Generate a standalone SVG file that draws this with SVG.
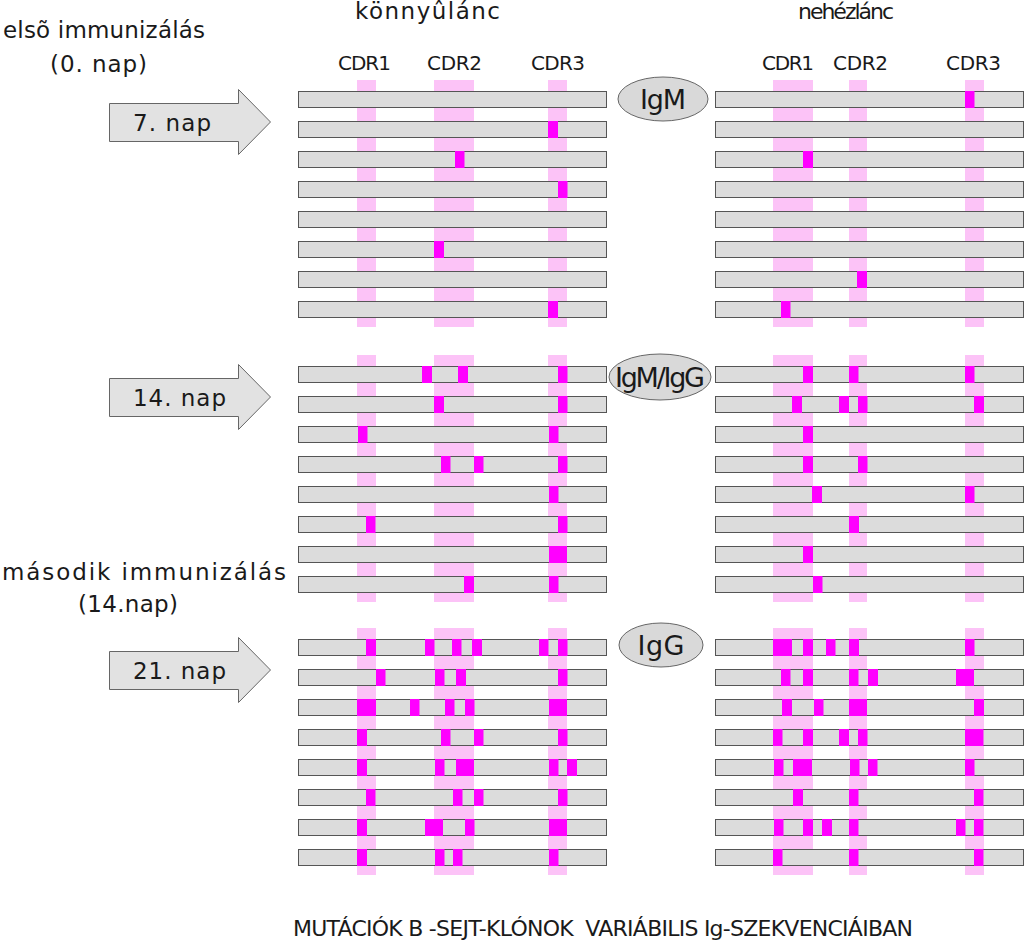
<svg xmlns="http://www.w3.org/2000/svg" width="1024" height="945" viewBox="0 0 1024 945">
<style>
text{font-family:"DejaVu Sans","Liberation Sans",sans-serif;fill:#1a1a1a}
.t{font-size:23px}
.cdr{font-size:20px}
.ig{font-size:27px}
.al{font-size:23px}
.bar{fill:#dcdcdc;stroke:#555;stroke-width:1}
.str{fill:#fcc3f7}
.m{fill:#ff00ff}
.arr{fill:#e2e2e2;stroke:#666;stroke-width:1}
.ell{fill:#d9d9d9;stroke:#666;stroke-width:1}
</style>
<defs>
<g id="barsL">
<rect class="bar" x="298.5" y="0.5" width="308" height="16"/>
<rect class="bar" x="298.5" y="30.5" width="308" height="16"/>
<rect class="bar" x="298.5" y="60.5" width="308" height="16"/>
<rect class="bar" x="298.5" y="90.5" width="308" height="16"/>
<rect class="bar" x="298.5" y="120.5" width="308" height="16"/>
<rect class="bar" x="298.5" y="150.5" width="308" height="16"/>
<rect class="bar" x="298.5" y="180.5" width="308" height="16"/>
<rect class="bar" x="298.5" y="210.5" width="308" height="16"/>
</g>
<g id="barsR">
<rect class="bar" x="715.5" y="0.5" width="308" height="16"/>
<rect class="bar" x="715.5" y="30.5" width="308" height="16"/>
<rect class="bar" x="715.5" y="60.5" width="308" height="16"/>
<rect class="bar" x="715.5" y="90.5" width="308" height="16"/>
<rect class="bar" x="715.5" y="120.5" width="308" height="16"/>
<rect class="bar" x="715.5" y="150.5" width="308" height="16"/>
<rect class="bar" x="715.5" y="180.5" width="308" height="16"/>
<rect class="bar" x="715.5" y="210.5" width="308" height="16"/>
</g>
<g id="stripes">
<rect class="str" x="357" y="0" width="19" height="247"/>
<rect class="str" x="434" y="0" width="40" height="247"/>
<rect class="str" x="548" y="0" width="19" height="247"/>
<rect class="str" x="773" y="0" width="40" height="247"/>
<rect class="str" x="849" y="0" width="18" height="247"/>
<rect class="str" x="965" y="0" width="19" height="247"/>
</g>
<polygon id="arrow" class="arr" points="109.5,103.5 238.5,103.5 238.5,89.5 270.5,122 238.5,154.5 238.5,141.5 109.5,141.5"/>
</defs>

<g id="titles">
<text class="t" x="355" y="19" textLength="145">könnyûlánc</text>
<text class="t" x="798" y="19" style="font-size:22px" textLength="96">nehézlánc</text>
<text class="t" x="3" y="38" textLength="202">elsõ immunizálás</text>
<text class="t" x="50" y="72" textLength="97">(0. nap)</text>
<text class="t" x="2" y="580" textLength="284">második immunizálás</text>
<text class="t" x="78" y="612" textLength="100">(14.nap)</text>
<text class="cdr" x="338" y="70" textLength="53">CDR1</text>
<text class="cdr" x="427" y="70" textLength="55">CDR2</text>
<text class="cdr" x="531" y="70" textLength="54">CDR3</text>
<text class="cdr" x="762" y="70" textLength="52">CDR1</text>
<text class="cdr" x="833" y="70" textLength="55">CDR2</text>
<text class="cdr" x="946" y="70" textLength="55">CDR3</text>
</g>

<g id="connectors">
<g id="arrow-7">
<use href="#arrow"/>
<text class="al" x="133" y="131" textLength="78">7. nap</text>
</g>
<g id="arrow-14">
<use href="#arrow" transform="translate(0,275)"/>
<text class="al" x="133" y="406" textLength="93">14. nap</text>
</g>
<g id="arrow-21">
<use href="#arrow" transform="translate(0,548)"/>
<text class="al" x="133" y="679" textLength="93">21. nap</text>
</g>
</g>

<g id="panel-top" transform="translate(0,91)">
<use href="#stripes" transform="translate(0,-11)"/>
<use href="#barsL"/>
<use href="#barsR"/>
<rect class="m" x="548" y="30" width="10" height="17"/>
<rect class="m" x="455" y="60" width="9.5" height="17"/>
<rect class="m" x="558" y="90" width="9.5" height="17"/>
<rect class="m" x="434" y="150" width="10" height="17"/>
<rect class="m" x="548" y="210" width="10" height="17"/>
<rect class="m" x="965" y="0" width="9.5" height="17"/>
<rect class="m" x="803" y="60" width="10" height="17"/>
<rect class="m" x="857" y="180" width="10" height="17"/>
<rect class="m" x="781" y="210" width="9.5" height="17"/>
</g>

<g id="panel-middle" transform="translate(0,366)">
<use href="#stripes" transform="translate(0,-11)"/>
<use href="#barsL"/>
<use href="#barsR"/>
<rect class="m" x="422" y="0" width="10" height="17"/>
<rect class="m" x="458" y="0" width="10" height="17"/>
<rect class="m" x="558" y="0" width="9.5" height="17"/>
<rect class="m" x="434" y="30" width="10" height="17"/>
<rect class="m" x="558" y="30" width="9.5" height="17"/>
<rect class="m" x="358" y="60" width="9.5" height="17"/>
<rect class="m" x="549" y="60" width="9.5" height="17"/>
<rect class="m" x="441" y="90" width="9.5" height="17"/>
<rect class="m" x="474" y="90" width="9.5" height="17"/>
<rect class="m" x="558" y="90" width="9.5" height="17"/>
<rect class="m" x="549" y="120" width="9.5" height="17"/>
<rect class="m" x="366" y="150" width="9.5" height="17"/>
<rect class="m" x="558" y="150" width="9.5" height="17"/>
<rect class="m" x="549" y="180" width="18" height="17"/>
<rect class="m" x="464" y="210" width="10" height="17"/>
<rect class="m" x="549" y="210" width="9.5" height="17"/>
<rect class="m" x="803" y="0" width="10" height="17"/>
<rect class="m" x="849" y="0" width="9.5" height="17"/>
<rect class="m" x="965" y="0" width="9.5" height="17"/>
<rect class="m" x="792" y="30" width="10" height="17"/>
<rect class="m" x="839" y="30" width="10" height="17"/>
<rect class="m" x="858" y="30" width="9.5" height="17"/>
<rect class="m" x="974" y="30" width="10" height="17"/>
<rect class="m" x="803" y="60" width="10" height="17"/>
<rect class="m" x="803" y="90" width="10" height="17"/>
<rect class="m" x="858" y="90" width="9.5" height="17"/>
<rect class="m" x="812" y="120" width="10" height="17"/>
<rect class="m" x="965" y="120" width="9.5" height="17"/>
<rect class="m" x="849" y="150" width="10" height="17"/>
<rect class="m" x="803" y="180" width="10" height="17"/>
<rect class="m" x="813" y="210" width="9.5" height="17"/>
</g>

<g id="panel-bottom" transform="translate(0,639)">
<use href="#stripes" transform="translate(0,-11)"/>
<use href="#barsL"/>
<use href="#barsR"/>
<rect class="m" x="366" y="0" width="10" height="17"/>
<rect class="m" x="425" y="0" width="9.5" height="17"/>
<rect class="m" x="452" y="0" width="9.5" height="17"/>
<rect class="m" x="472" y="0" width="10" height="17"/>
<rect class="m" x="539" y="0" width="9.5" height="17"/>
<rect class="m" x="558" y="0" width="9.5" height="17"/>
<rect class="m" x="376" y="30" width="9.5" height="17"/>
<rect class="m" x="435" y="30" width="9.5" height="17"/>
<rect class="m" x="456" y="30" width="10" height="17"/>
<rect class="m" x="558" y="30" width="9.5" height="17"/>
<rect class="m" x="357" y="60" width="19" height="17"/>
<rect class="m" x="410" y="60" width="9.5" height="17"/>
<rect class="m" x="445" y="60" width="9.5" height="17"/>
<rect class="m" x="465" y="60" width="9.5" height="17"/>
<rect class="m" x="549" y="60" width="18" height="17"/>
<rect class="m" x="357" y="90" width="10" height="17"/>
<rect class="m" x="441" y="90" width="9.5" height="17"/>
<rect class="m" x="474" y="90" width="9.5" height="17"/>
<rect class="m" x="558" y="90" width="9.5" height="17"/>
<rect class="m" x="357" y="120" width="10" height="17"/>
<rect class="m" x="435" y="120" width="9.5" height="17"/>
<rect class="m" x="456" y="120" width="18" height="17"/>
<rect class="m" x="549" y="120" width="9.5" height="17"/>
<rect class="m" x="567" y="120" width="10" height="17"/>
<rect class="m" x="366" y="150" width="9.5" height="17"/>
<rect class="m" x="453" y="150" width="9.5" height="17"/>
<rect class="m" x="474" y="150" width="9.5" height="17"/>
<rect class="m" x="558" y="150" width="9.5" height="17"/>
<rect class="m" x="357" y="180" width="10" height="17"/>
<rect class="m" x="425" y="180" width="18" height="17"/>
<rect class="m" x="465" y="180" width="9.5" height="17"/>
<rect class="m" x="549" y="180" width="18" height="17"/>
<rect class="m" x="357" y="210" width="10" height="17"/>
<rect class="m" x="435" y="210" width="9.5" height="17"/>
<rect class="m" x="453" y="210" width="9.5" height="17"/>
<rect class="m" x="549" y="210" width="9.5" height="17"/>
<rect class="m" x="773" y="0" width="19" height="17"/>
<rect class="m" x="803" y="0" width="10" height="17"/>
<rect class="m" x="826" y="0" width="9.5" height="17"/>
<rect class="m" x="849" y="0" width="10" height="17"/>
<rect class="m" x="965" y="0" width="9.5" height="17"/>
<rect class="m" x="781" y="30" width="9.5" height="17"/>
<rect class="m" x="803" y="30" width="10" height="17"/>
<rect class="m" x="849" y="30" width="9.5" height="17"/>
<rect class="m" x="868" y="30" width="10" height="17"/>
<rect class="m" x="956" y="30" width="18" height="17"/>
<rect class="m" x="782" y="60" width="10" height="17"/>
<rect class="m" x="814" y="60" width="9.5" height="17"/>
<rect class="m" x="849" y="60" width="18" height="17"/>
<rect class="m" x="974" y="60" width="10" height="17"/>
<rect class="m" x="773" y="90" width="9.5" height="17"/>
<rect class="m" x="803" y="90" width="10" height="17"/>
<rect class="m" x="839" y="90" width="10" height="17"/>
<rect class="m" x="858" y="90" width="9.5" height="17"/>
<rect class="m" x="965" y="90" width="18.5" height="17"/>
<rect class="m" x="774" y="120" width="9.5" height="17"/>
<rect class="m" x="793" y="120" width="19" height="17"/>
<rect class="m" x="850" y="120" width="9.5" height="17"/>
<rect class="m" x="868" y="120" width="9.5" height="17"/>
<rect class="m" x="965" y="120" width="9.5" height="17"/>
<rect class="m" x="793" y="150" width="10" height="17"/>
<rect class="m" x="849" y="150" width="9.5" height="17"/>
<rect class="m" x="974" y="150" width="9.5" height="17"/>
<rect class="m" x="774" y="180" width="9.5" height="17"/>
<rect class="m" x="803" y="180" width="10" height="17"/>
<rect class="m" x="822" y="180" width="10" height="17"/>
<rect class="m" x="849" y="180" width="9.5" height="17"/>
<rect class="m" x="956" y="180" width="9.5" height="17"/>
<rect class="m" x="974" y="180" width="9.5" height="17"/>
<rect class="m" x="773" y="210" width="9.5" height="17"/>
<rect class="m" x="849" y="210" width="9.5" height="17"/>
<rect class="m" x="974" y="210" width="9.5" height="17"/>
</g>

<g id="node-igm">
<ellipse class="ell" cx="663" cy="99" rx="45" ry="22"/>
<text class="ig" x="663" y="109" text-anchor="middle" textLength="46">IgM</text>
</g>
<g id="node-igm-igg">
<ellipse class="ell" cx="660" cy="377" rx="51" ry="23"/>
<text class="ig" x="660" y="387" text-anchor="middle" textLength="90">IgM/IgG</text>
</g>
<g id="node-igg">
<ellipse class="ell" cx="661" cy="645" rx="42" ry="22"/>
<text class="ig" x="661" y="655" text-anchor="middle" textLength="47">IgG</text>
</g>

<g id="caption">
<text x="293" y="936" style="font-size:22px;white-space:pre" textLength="620">MUTÁCIÓK B -SEJT-KLÓNOK  VARIÁBILIS Ig-SZEKVENCIÁIBAN</text>
</g>
</svg>
